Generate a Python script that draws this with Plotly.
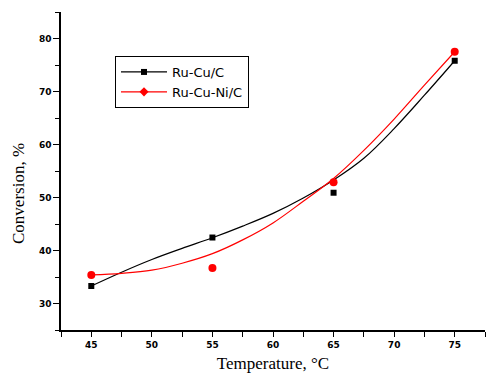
import plotly.graph_objects as go

# measured data points
temps = [45, 55, 65, 75]
ru_cu = [33.3, 42.45, 50.9, 75.8]
ru_cu_ni = [35.4, 36.7, 52.9, 77.5]

# fitted curves
curve_x = [45, 47.5, 50, 52.5, 55, 57.5, 60, 62.5, 65, 67.5, 70, 72.5, 75]
ru_cu_fit = [33.3, 35.9, 38.3, 40.4, 42.4, 44.6, 47.0, 49.9, 53.3, 57.4, 63.0, 69.3, 75.8]
ru_cu_ni_fit = [35.4, 35.7, 36.3, 37.6, 39.4, 42.0, 45.2, 49.3, 53.6, 58.9, 64.8, 71.2, 77.5]

x_ticks = [45, 50, 55, 60, 65, 70, 75]
y_ticks = [30, 40, 50, 60, 70, 80]

fig = go.Figure()
fig.add_trace(go.Scatter(x=curve_x, y=ru_cu_fit, mode="lines", line=dict(color="black", width=1.2, shape="spline"), showlegend=False))
fig.add_trace(go.Scatter(x=curve_x, y=ru_cu_ni_fit, mode="lines", line=dict(color="red", width=1.2, shape="spline"), showlegend=False))
fig.add_trace(go.Scatter(x=temps, y=ru_cu, mode="markers", marker=dict(symbol="square", color="black", size=6), showlegend=False))
fig.add_trace(go.Scatter(x=temps, y=ru_cu_ni, mode="markers", marker=dict(symbol="circle", color="red", size=8), showlegend=False))
# legend entries
fig.add_trace(go.Scatter(x=[None], y=[None], mode="lines+markers", name="Ru-Cu/C",
                         line=dict(color="black", width=1.2), marker=dict(symbol="square", color="black", size=6)))
fig.add_trace(go.Scatter(x=[None], y=[None], mode="lines+markers", name="Ru-Cu-Ni/C",
                         line=dict(color="red", width=1.2), marker=dict(symbol="diamond", color="red", size=7)))

tickfont = dict(family="DejaVu Sans", size=9, color="black", weight="bold")
titlefont = dict(family="Liberation Serif", size=17, color="black")
fig.update_layout(
    width=486, height=378,
    margin=dict(l=61, r=1, t=12, b=48),
    paper_bgcolor="white", plot_bgcolor="white",
    legend=dict(x=(115 - 61) / 424, y=(330 - 56) / 318, xanchor="left", yanchor="top",
                bordercolor="black", borderwidth=1, bgcolor="white",
                font=dict(family="DejaVu Sans", size=13, color="black"),
                tracegroupgap=0, itemwidth=46),
    xaxis=dict(range=[42.5, 77.5], tickvals=x_ticks, ticks="outside", ticklen=5,
               tickcolor="black", showline=True, linecolor="black", linewidth=1.5,
               showgrid=False, zeroline=False, tickfont=tickfont,
               minor=dict(dtick=2.5, tick0=42.5, ticks="outside", ticklen=5, tickcolor="black"),
               title=dict(text="Temperature, °C", font=titlefont, standoff=9)),
    yaxis=dict(range=[25, 85], tickvals=y_ticks, ticks="outside", ticklen=6,
               tickcolor="black", showline=True, linecolor="black", linewidth=1.5,
               showgrid=False, zeroline=False, tickfont=tickfont,
               minor=dict(dtick=5, tick0=25, ticks="outside", ticklen=4, tickcolor="black"),
               title=None),
    annotations=[dict(text="Conversion, %", x=(18 - 61) / 424, xref="paper", xanchor="center",
                      y=(330 - 194) / 318, yref="paper", yanchor="middle", textangle=-90,
                      showarrow=False, font=titlefont)],
)

fig.write_html("out.html")
